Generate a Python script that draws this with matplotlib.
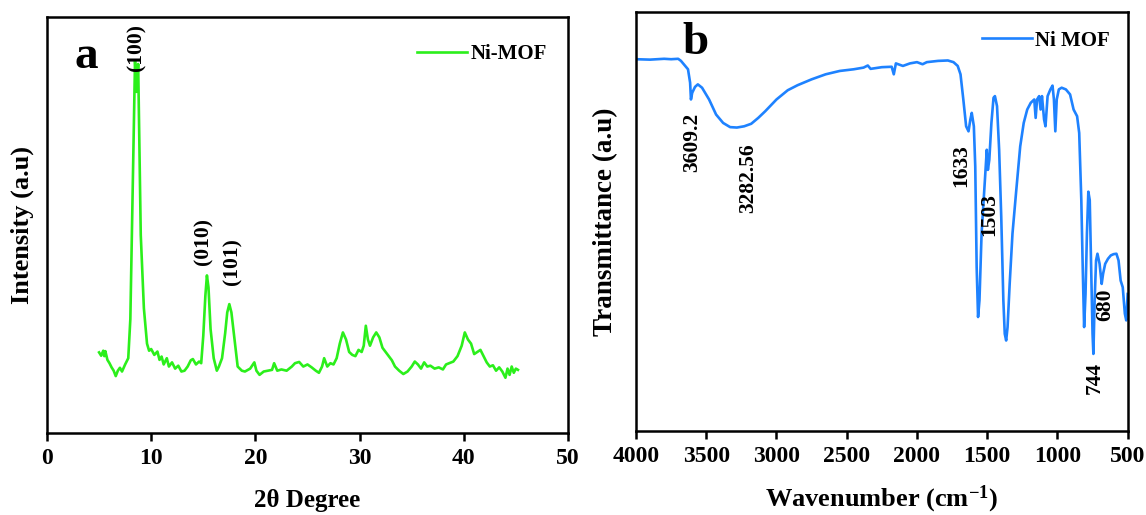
import matplotlib
matplotlib.use("Agg")
import matplotlib.pyplot as plt

plt.rcParams['font.family'] = ['Liberation Serif', 'DejaVu Serif']
plt.rcParams['font.weight'] = 'bold'
plt.rcParams['mathtext.fontset'] = 'custom'
plt.rcParams['mathtext.rm'] = 'Liberation Serif:bold'
plt.rcParams['mathtext.bf'] = 'Liberation Serif:bold'
plt.rcParams['mathtext.it'] = 'Liberation Serif:bold'

# XRD pattern (2 theta, intensity in a.u.)
xrd_2theta = [5.0, 5.2, 5.4, 5.5, 5.6, 5.8, 6.0, 6.2, 6.4, 6.6, 6.8, 7.0, 7.2, 7.5, 7.8,
              8.0, 8.2, 8.35, 8.45, 8.6, 8.75, 9.0, 9.3, 9.6, 9.8, 10.0, 10.3, 10.6, 10.8,
              11.0, 11.2, 11.5, 11.7, 12.0, 12.3, 12.6, 12.9, 13.2, 13.5, 13.8, 14.0, 14.3,
              14.6, 14.8, 15.0, 15.2, 15.35, 15.5, 15.7, 16.0, 16.3, 16.5, 16.8, 17.1, 17.3,
              17.5, 17.7, 18.0, 18.3, 18.7, 19.0, 19.5, 19.9, 20.1, 20.4, 20.8, 21.2, 21.6,
              21.8, 22.1, 22.5, 23.0, 23.5, 23.8, 24.2, 24.6, 25.0, 25.4, 25.8, 26.1, 26.4,
              26.6, 26.9, 27.2, 27.5, 27.8, 28.1, 28.4, 28.7, 29.0, 29.3, 29.6, 29.9, 30.2,
              30.4, 30.6, 30.8, 31.0, 31.3, 31.6, 31.9, 32.2, 32.5, 32.8, 33.1, 33.4, 33.8,
              34.2, 34.6, 35.0, 35.3, 35.6, 35.9, 36.2, 36.5, 36.8, 37.2, 37.6, 38.0, 38.3,
              38.6, 39.0, 39.4, 39.8, 40.1, 40.4, 40.7, 41.0, 41.3, 41.6, 41.9, 42.2, 42.5,
              42.8, 43.1, 43.4, 43.7, 44.0, 44.2, 44.4, 44.6, 44.8, 45.0, 45.2]
xrd_intensity = [194, 186, 198, 185, 197, 176, 168, 158, 150, 137, 150, 157, 148, 165, 180,
                 274, 556, 760, 895, 820, 887, 476, 300, 215, 198, 202, 188, 196, 176,
                 184, 165, 180, 160, 170, 155, 162, 148, 150, 160, 175, 178, 165,
                 172, 168, 234, 330, 379, 350, 250, 180, 150, 160, 180, 240, 290,
                 310, 290, 225, 160, 150, 148, 155, 170, 150, 140, 148, 150, 152,
                 168, 150, 153, 150, 160, 168, 171, 160, 165, 158, 150, 145, 160,
                 180, 160, 168, 165, 180, 215, 242, 225, 195, 188, 185, 200, 195,
                 210, 258, 225, 210, 230, 242, 230, 205, 195, 185, 175, 160, 150,
                 142, 148, 160, 172, 165, 155, 170, 160, 162, 155, 158, 153, 165,
                 168, 172, 185, 210, 242, 225, 215, 190, 195, 200, 185, 170, 160,
                 163, 150, 158, 148, 133, 155, 140, 160, 145, 155, 152]

xrd_peaks = ['(100)', '(010)', '(101)']
xrd_peak_x = [8.55, 15.0, 17.85]
xrd_peak_y = [871, 403, 355]

# FTIR spectrum (wavenumber, transmittance in a.u.)
ftir_wavenumber = [4000, 3900, 3800, 3750, 3700, 3680, 3650, 3630, 3615, 3609, 3600, 3580,
                   3560, 3530, 3480, 3430, 3380, 3330, 3282, 3230, 3180, 3130, 3080, 3000,
                   2920, 2850, 2750, 2650, 2550, 2450, 2380, 2350, 2330, 2250, 2180, 2165,
                   2150, 2100, 2050, 2000, 1960, 1930, 1850, 1780, 1740, 1710, 1690, 1670,
                   1650, 1633, 1620, 1610, 1595, 1585, 1575, 1565, 1555, 1540, 1525, 1510,
                   1503, 1495, 1485, 1470, 1455, 1445, 1430, 1415, 1400, 1385, 1375, 1365,
                   1355, 1340, 1320, 1295, 1265, 1240, 1215, 1190, 1165, 1155, 1145, 1130,
                   1120, 1110, 1095, 1085, 1070, 1050, 1035, 1025, 1015, 1005, 990, 970,
                   940, 910, 885, 860, 845, 830, 820, 810, 800, 790, 780, 770, 760, 750,
                   744, 735, 725, 715, 700, 685, 675, 660, 640, 620, 600, 580, 565, 550,
                   535, 520, 510, 500]
ftir_transmittance = [88.7, 88.6, 88.8, 88.7, 88.8, 88.3, 87.1, 86.3, 83.1, 79.1, 80.7, 82.1,
                      82.7, 81.9, 79.1, 75.5, 73.5, 72.5, 72.4, 72.7, 73.3, 74.7, 76.3, 79.1,
                      81.3, 82.5, 83.9, 85.1, 85.9, 86.3, 86.7, 87.2, 86.4, 86.8, 86.9, 85.1,
                      87.7, 87.1, 87.7, 88.0, 87.5, 88.0, 88.3, 88.4, 88.0, 87.1, 85.1, 79.1,
                      72.7, 71.5, 74.3, 75.9, 72.7, 63.1, 39.1, 27.2, 31.2, 47.1, 55.1, 63.1,
                      67.1, 62.3, 64.7, 73.5, 79.5, 79.9, 77.5, 67.1, 51.1, 31.2, 23.2, 21.6,
                      24.8, 35.1, 47.1, 56.7, 67.9, 73.5, 76.7, 78.3, 79.1, 74.7, 79.1, 79.9,
                      76.7, 79.9, 74.3, 72.7, 79.9, 81.5, 82.4, 79.1, 71.5, 79.1, 81.5, 81.9,
                      81.5, 80.3, 76.7, 75.1, 71.1, 55.1, 39.1, 24.8, 32.7, 47.1, 57.1, 55.1,
                      39.1, 23.2, 18.4, 31.2, 40.7, 42.3, 39.9, 35.1, 37.5, 39.9, 41.1, 41.9,
                      42.2, 42.3, 40.7, 35.9, 34.3, 28.0, 26.4, 32.7]

ftir_bands = ['3609.2', '3282.56', '1633', '1503', '744', '680']
ftir_band_x = [3597, 3205, 1685, 1487, 736, 659]
ftir_band_y = [75.9, 68.7, 68.3, 56.7, 16.4, 33.9]

fig = plt.figure(figsize=(11.46, 5.15), dpi=100)
ax1 = fig.add_axes([0.041, 0.159, 0.4546, 0.808])
ax2 = fig.add_axes([0.555, 0.163, 0.429, 0.814])

# (a) XRD
ax1.plot(xrd_2theta, xrd_intensity, color='#2BEF1B', lw=1.9, label='Ni-MOF')
for lab, px, py in zip(xrd_peaks, xrd_peak_x, xrd_peak_y):
    ax1.text(px, py, lab, rotation=90, ha='center', va='bottom', fontsize=15.5, fontweight='bold')
ax1.set_xlim(0, 50)
ax1.set_ylim(0, 1000)
ax1.set_yticks([])
ax1.set_xticks([0, 10, 20, 30, 40, 50])
ax1.set_xlabel('2θ Degree', fontsize=18, fontweight='bold', labelpad=14)
ax1.set_ylabel('Intensity (a.u)', fontsize=19, fontweight='bold', labelpad=9)
ax1.text(0.075, 0.905, 'a', transform=ax1.transAxes, fontsize=34, fontweight='bold',
         ha='center', va='center')
ax1.legend(loc='upper right', bbox_to_anchor=(0.975, 0.955), frameon=False,
           fontsize=15, handlelength=2.4, handletextpad=0.15, borderaxespad=0)

# (b) FTIR
ax2.plot(ftir_wavenumber, ftir_transmittance, color='#1E82FF', lw=1.9, label='Ni MOF')
for lab, px, py in zip(ftir_bands, ftir_band_x, ftir_band_y):
    ax2.text(px, py, lab, rotation=90, ha='center', va='top', fontsize=15.5, fontweight='bold')
ax2.set_xlim(4000, 500)
ax2.set_ylim(0, 100)
ax2.set_yticks([])
ax2.set_xticks([4000, 3500, 3000, 2500, 2000, 1500, 1000, 500])
ax2.set_xlabel('Wavenumber (cm$^{-1}$)', fontsize=19, fontweight='bold', labelpad=12)
ax2.set_ylabel('Transmittance (a.u)', fontsize=19.5, fontweight='bold', labelpad=13)
ax2.text(0.12, 0.925, 'b', transform=ax2.transAxes, fontsize=34, fontweight='bold',
         ha='center', va='center')
ax2.legend(loc='upper right', bbox_to_anchor=(0.98, 0.975), frameon=False,
           fontsize=15, handlelength=2.4, handletextpad=0.15, borderaxespad=0)

for ax in (ax1, ax2):
    for sp in ax.spines.values():
        sp.set_linewidth(1.8)
    ax.tick_params(axis='x', direction='out', length=6, width=1.8, labelsize=17, pad=5)
    for t in ax.get_xticklabels():
        t.set_fontweight('bold')

fig.savefig('out.png', dpi=100)
